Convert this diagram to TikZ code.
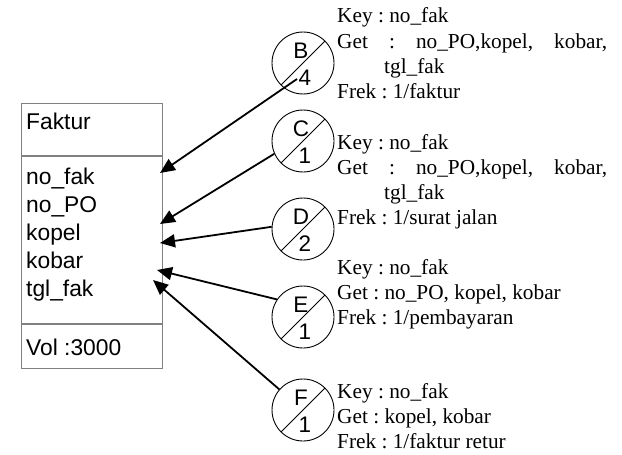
\documentclass[tikz,border=0pt]{standalone}
\usepackage{fontspec}
\setmainfont{Liberation Serif}
\newfontfamily\arialf{Liberation Sans}
\usetikzlibrary{arrows.meta}
\definecolor{boxgray}{HTML}{808080}
\tikzset{
  boxtxt/.style={anchor=base west, inner sep=0pt, font=\arialf\fontsize{22.8}{27}\selectfont},
  serif/.style={anchor=base west, inner sep=0pt, font=\frenchspacing\fontsize{21.3}{25}\selectfont},
  circ/.style={draw=black, circle, line width=0.9pt, minimum size=62pt, inner sep=0pt},
  clabel/.style={inner sep=0pt, font=\arialf\fontsize{22.5}{27}\selectfont},
  arr/.style={line width=1.8pt, -{Triangle[length=15pt,width=13pt]}},
  boxline/.style={draw=boxgray, line width=1.3pt}
}
\begin{document}
\begin{tikzpicture}[x=1pt,y=-1pt]
\useasboundingbox (0,0) rectangle (622,455);
% table box
\node[boxline, minimum width=141pt, minimum height=265pt, inner sep=0pt, anchor=north west] (fak) at (21,103) {};
\coordinate (d1l) at (21,156); \coordinate (d1r) at (162,156);
\coordinate (d2l) at (21,324); \coordinate (d2r) at (162,324);
\draw[boxline] (d1l) -- (d1r);
\draw[boxline] (d2l) -- (d2r);
\node[boxtxt] (t0) at (26,129) {Faktur};
\node[boxtxt] (t1) at (26,184) {no\_fak};
\node[boxtxt] (t2) at (26,212) {no\_PO};
\node[boxtxt] (t3) at (26,240) {kopel};
\node[boxtxt] (t4) at (26,268) {kobar};
\node[boxtxt] (t5) at (26,296) {tgl\_fak};
\node[boxtxt] (t6) at (26,355) {Vol :3000};
% circles
\foreach \n/\y/\num in {B/63/4, C/141/1, D/229/2, E/317/1, F/410/1}{
  \node[circ] (\n) at (303,\y) {};
  \draw[line width=0.9pt] (\n.225) -- (\n.45);
  \node[clabel] (\n l) at ([xshift=-2pt,yshift=12.5pt]\n.center) {\n};
  \node[clabel] (\n n) at ([xshift=2pt,yshift=-14.5pt]\n.center) {\num};
}
% arrow endpoints
\coordinate (sB) at (297,79);
\coordinate (tB) at (160,173);
\coordinate (tC) at (160,224);
\coordinate (tD) at (160,243);
\coordinate (tE) at (157,270);
\coordinate (tF) at (153,280);
\draw[arr] (sB) -- (tB);
\draw[arr] (C.204) -- (tC);
\draw[arr] (D.176) -- (tD);
\draw[arr] (E.146) -- (tE);
\draw[arr] (F.139) -- (tF);
% texts B
\node[serif] (b1) at (337,23) {Key : no\_fak};
\node[serif] (b2) at (337,48) {\makebox[270pt][s]{Get : no\_PO,kopel, kobar,}};
\node[serif] (b3) at (384,73) {tgl\_fak};
\node[serif] (b4) at (337,98) {Frek : 1/faktur};
% texts C
\node[serif] (c1) at (337,149) {Key : no\_fak};
\node[serif] (c2) at (337,174) {\makebox[270pt][s]{Get : no\_PO,kopel, kobar,}};
\node[serif] (c3) at (384,199) {tgl\_fak};
\node[serif] (c4) at (337,224) {Frek : 1/surat jalan};
% texts E
\node[serif] (e1) at (337,274) {Key : no\_fak};
\node[serif] (e2) at (337,299) {Get : no\_PO, kopel, kobar};
\node[serif] (e3) at (337,324) {Frek : 1/pembayaran};
% texts F
\node[serif] (f1) at (337,398) {Key : no\_fak};
\node[serif] (f2) at (337,423) {Get : kopel, kobar};
\node[serif] (f3) at (337,448) {Frek : 1/faktur retur};
\end{tikzpicture}
\end{document}
